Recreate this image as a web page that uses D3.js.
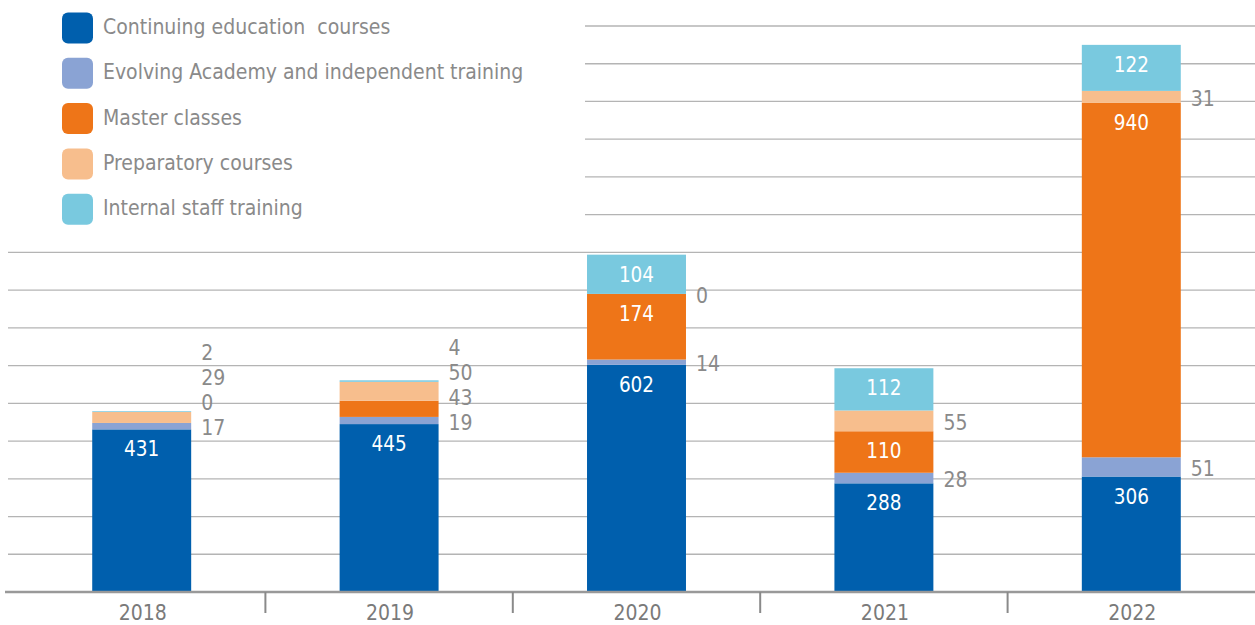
<!DOCTYPE html>
<html>
<head>
<meta charset="utf-8">
<script src="https://cdn.jsdelivr.net/npm/d3@7"></script>
<style>
  body { margin: 0; background: #fff; }
  svg text { font-family: "DejaVu Sans Condensed", "DejaVu Sans", sans-serif; font-stretch: condensed; }
</style>
</head>
<body>
<div id="container"></div>
<script>
const years = ["2018", "2019", "2020", "2021", "2022"];
const seriesNames = [
  "Continuing education  courses",
  "Evolving Academy and independent training",
  "Master classes",
  "Preparatory courses",
  "Internal staff training",
];
const continuing = [431, 445, 602, 288, 306];
const evolving = [17, 19, 14, 28, 51];
const master = [0, 43, 174, 110, 940];
const preparatory = [29, 50, 0, 55, 31];
const internal = [2, 4, 104, 112, 122];
const colors = ["#005fad", "#8aa3d4", "#ee7518", "#f7be8d", "#79c9df"];
const gridValues = [100, 200, 300, 400, 500, 600, 700, 800, 900, 1000, 1100, 1200, 1300, 1400, 1500];

const w = 1255;
const h = 625;
const baseY = 592;

const svg = d3
  .select("#container")
  .append("svg")
  .attr("width", w)
  .attr("height", h);

const table = years.map((y, i) => ({
  year: y,
  values: [continuing[i], evolving[i], master[i], preparatory[i], internal[i]],
}));

const xScale = d3.scaleBand().domain(years).range([18, w]);
const yScale = d3.scaleLinear().domain([0, 1500]).range([baseY, 26]);
const barW = xScale.bandwidth() * 0.4;

// gridlines (upper ones stop short of the legend)
svg
  .selectAll("line.grid")
  .data(gridValues)
  .enter()
  .append("line")
  .attr("class", "grid")
  .attr("x1", (d) => (d >= 1000 ? 585 : 8))
  .attr("x2", w)
  .attr("y1", (d) => yScale(d))
  .attr("y2", (d) => yScale(d))
  .attr("stroke", "#b4b4b4")
  .attr("stroke-width", 1.3);

// stacked bars
table.forEach((row) => {
  const cx = xScale(row.year) + xScale.bandwidth() / 2;
  const g = svg.append("g");
  let acc = 0;
  const segs = row.values.map((v, k) => {
    const s = { v: v, k: k, y0: acc, y1: acc + v };
    acc += v;
    return s;
  });

  g.selectAll("rect")
    .data(segs)
    .enter()
    .append("rect")
    .attr("x", cx - barW / 2)
    .attr("width", barW)
    .attr("y", (d) => yScale(d.y1))
    .attr("height", (d) => yScale(d.y0) - yScale(d.y1))
    .attr("fill", (d) => colors[d.k]);

  // big values inside the bar
  g.selectAll("text.in")
    .data(segs.filter((d) => d.v >= 100))
    .enter()
    .append("text")
    .attr("class", "in")
    .attr("x", cx)
    .attr("y", (d) => yScale(d.y1) + 21)
    .attr("text-anchor", "middle")
    .attr("dominant-baseline", "middle")
    .attr("fill", "white")
    .attr("font-size", 20.5)
    .text((d) => d.v);

  // small values to the right, pushed apart
  let lastY = Infinity;
  segs
    .filter((d) => d.v < 100)
    .forEach((d) => {
      let y = (yScale(d.y0) + yScale(d.y1)) / 2;
      if (y > lastY - 25) y = lastY - 25;
      lastY = y;
      g.append("text")
        .attr("x", cx + barW / 2 + 10)
        .attr("y", y + 3)
        .attr("dominant-baseline", "middle")
        .attr("fill", "#8a8a8a")
        .attr("font-size", 21)
        .text(d.v);
    });
});

// x axis
svg
  .append("line")
  .attr("x1", 5)
  .attr("x2", w)
  .attr("y1", baseY)
  .attr("y2", baseY)
  .attr("stroke", "#999")
  .attr("stroke-width", 2.5);

svg
  .selectAll("line.tick")
  .data(years.slice(1))
  .enter()
  .append("line")
  .attr("class", "tick")
  .attr("x1", (d) => xScale(d))
  .attr("x2", (d) => xScale(d))
  .attr("y1", baseY)
  .attr("y2", baseY + 21)
  .attr("stroke", "#8a8a8a")
  .attr("stroke-width", 2);

svg
  .selectAll("text.year")
  .data(years)
  .enter()
  .append("text")
  .attr("class", "year")
  .attr("x", (d) => xScale(d) + xScale.bandwidth() / 2 + 1)
  .attr("y", 614)
  .attr("text-anchor", "middle")
  .attr("dominant-baseline", "middle")
  .attr("fill", "#7a7a7a")
  .attr("font-size", 21)
  .text((d) => d);

// legend
const legend = svg
  .selectAll("g.legend")
  .data(seriesNames)
  .enter()
  .append("g")
  .attr("class", "legend")
  .attr("transform", (d, i) => `translate(62, ${28 + i * 45.3})`);

legend
  .append("rect")
  .attr("x", 0)
  .attr("y", -15.5)
  .attr("width", 31)
  .attr("height", 31)
  .attr("rx", 6)
  .attr("fill", (d, i) => colors[i]);

legend
  .append("text")
  .attr("x", 41)
  .attr("y", 0)
  .attr("dominant-baseline", "middle")
  .attr("fill", "#8a8a8a")
  .attr("font-size", 21)
  .style("white-space", "pre")
  .text((d) => d);
</script>
</body>
</html>
